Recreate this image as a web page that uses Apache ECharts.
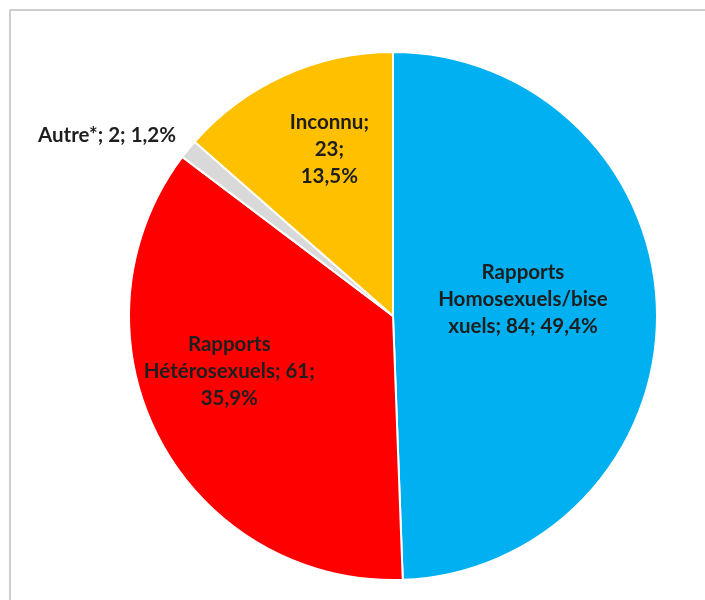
<!DOCTYPE html>
<html>
<head>
<meta charset="utf-8">
<script src="https://cdn.jsdelivr.net/npm/echarts@6/dist/echarts.min.js"></script>
<style>
html,body{margin:0;padding:0;background:#fff;}
#chart{width:705px;height:600px;}
</style>
</head>
<body>
<div id="chart"></div>
<script>
const categories = ['Rapports Homosexuels/bisexuels', 'Rapports Hétérosexuels', 'Autre*', 'Inconnu'];
const values = [84, 61, 2, 23];
const colors = ['#00B0F0', '#FF0000', '#D9D9D9', '#FFC000'];

function pct(p) { return p.toFixed(1).replace('.', ',') + '%'; }

const labelFormat = [
  (n, v, p) => 'Rapports\nHomosexuels/bise\nxuels; ' + v + '; ' + p,
  (n, v, p) => 'Rapports\nHétérosexuels; ' + v + ';\n' + p,
  (n, v, p) => n + '; ' + v + '; ' + p,
  (n, v, p) => n + ';\n' + v + ';\n' + p
];

const chart = echarts.init(document.getElementById('chart'));
const data = categories.map((c, i) => ({
  name: c,
  value: values[i],
  itemStyle: { color: colors[i] },
  label: i === 2 ? { position: 'outside', overflow: 'none', width: null, edgeDistance: 0 } : { position: 'inside' },
  labelLine: { show: false }
}));

chart.setOption({
  animation: false,
  graphic: [{
    type: 'rect',
    shape: { x: 10, y: 10, width: 720, height: 620 },
    style: { fill: 'none', stroke: '#BFBFBF', lineWidth: 1.5 }
  }],
  series: [{
    type: 'pie',
    center: [393, 316],
    radius: 264,
    startAngle: 90,
    clockwise: true,
    data: data,
    itemStyle: { borderColor: '#fff', borderWidth: 2 },
    label: {
      show: true,
      fontFamily: 'Lato',
      fontWeight: 'bold',
      fontSize: 20.5,
      lineHeight: 27,
      color: '#1e1e1e',
      align: 'center',
      formatter: (p) => labelFormat[p.dataIndex](p.name, p.value, pct(p.percent))
    },
    labelLayout: function (params) {
      const i = params.dataIndex;
      if (i === 0) return { dx: -5, dy: -14 };
      if (i === 1) return { dx: -44, dy: -7 };
      if (i === 3) return { dx: -8, dy: -44 };
      if (i === 2) return { x: 107, y: 135, align: 'center', verticalAlign: 'middle' };
      return {};
    }
  }]
});
</script>
</body>
</html>
